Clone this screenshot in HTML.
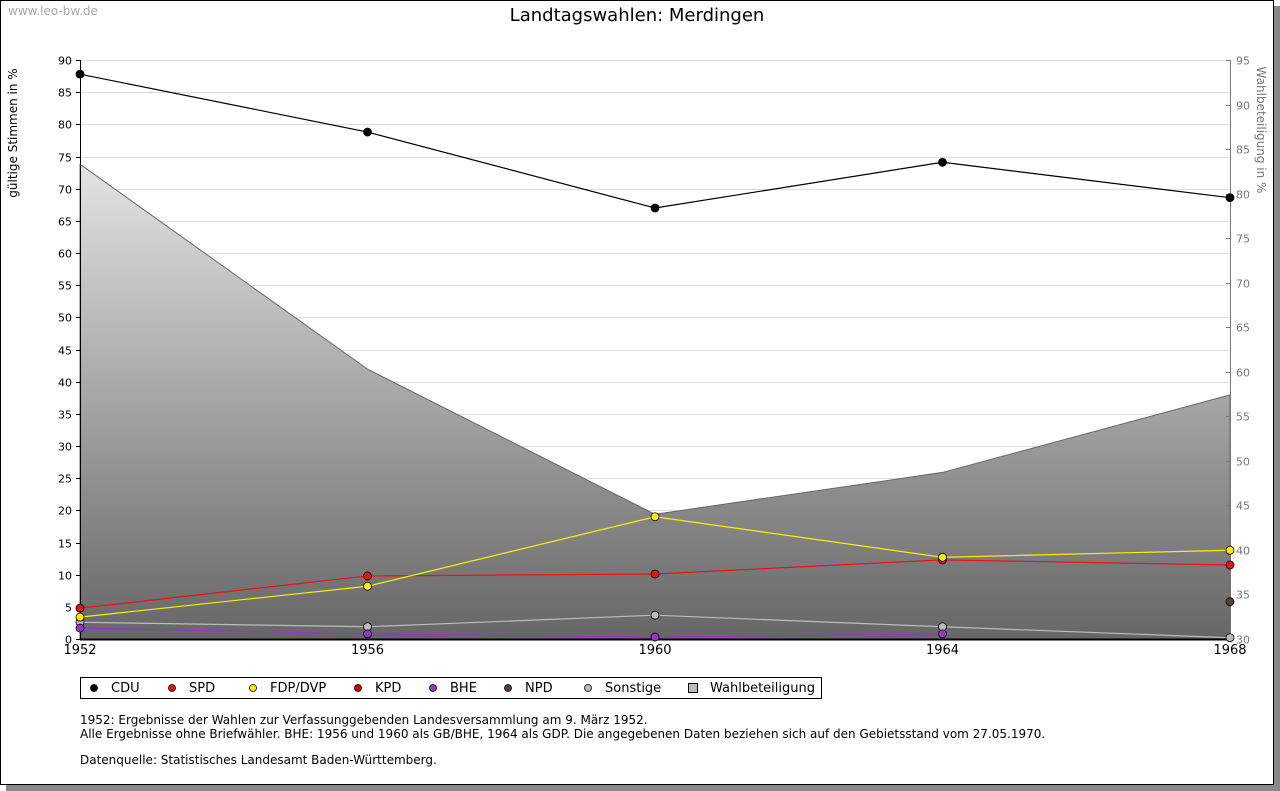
<!DOCTYPE html>
<html><head><meta charset="utf-8"><style>
body{margin:0;background:#fff;font-family:"DejaVu Sans","Liberation Sans",sans-serif;}
#wrap{position:relative;width:1280px;height:791px;overflow:hidden;background:#fff}
svg text{font-family:"DejaVu Sans","Liberation Sans",sans-serif;}
</style></head><body>
<div id="wrap">
<svg id="chart" width="1280" height="791" xmlns="http://www.w3.org/2000/svg">
<defs>
<linearGradient id="wg" x1="0" y1="60" x2="0" y2="639" gradientUnits="userSpaceOnUse">
<stop offset="0" stop-color="#ffffff"/><stop offset="1" stop-color="#666666"/></linearGradient>
</defs>
<rect x="6" y="6" width="1274" height="785" fill="#888"/>
<rect x="0.5" y="0.5" width="1273" height="784" fill="#fff" stroke="#000"/>
<text x="8" y="15" font-size="12" fill="#aaa">www.leo-bw.de</text>
<text x="637" y="21" font-size="18" text-anchor="middle" fill="#000">Landtagswahlen: Merdingen</text>
<g id="grid"></g><g id="area"></g><g id="axes"></g><g id="series"></g>
<text transform="translate(17,133) rotate(-90)" font-size="12" text-anchor="middle">gültige Stimmen in %</text>
<text transform="translate(1257,130) rotate(90)" font-size="12" text-anchor="middle" fill="#777">Wahlbeteiligung in %</text>
<rect x="80.5" y="677.5" width="741" height="21" fill="#fff" stroke="#000"/>
<g id="legend"></g>
<g font-size="12" fill="#000">
<text x="80" y="724">1952: Ergebnisse der Wahlen zur Verfassunggebenden Landesversammlung am 9. März 1952.</text>
<text x="80" y="738">Alle Ergebnisse ohne Briefwähler. BHE: 1956 und 1960 als GB/BHE, 1964 als GDP. Die angegebenen Daten beziehen sich auf den Gebietsstand vom 27.05.1970.</text>
<text x="80" y="764">Datenquelle: Statistisches Landesamt Baden-Württemberg.</text>
</g>
</svg>
</div>
<script>
const years=[1952,1956,1960,1964,1968];
const cdu=[87.8,78.8,67.0,74.1,68.6];
const spd=[4.8,9.8,10.1,12.3,11.5];
const fdp=[3.4,8.2,19.0,12.7,13.8];
const kpd=[null,null,null,null,null];
const bhe=[1.7,0.8,0.3,0.8,null];
const npd=[null,null,null,null,5.8];
const sonst=[2.6,1.9,3.7,1.9,0.2];
const turnout=[83.3,60.3,44.0,48.7,57.4];
const leftTicks=[0,5,10,15,20,25,30,35,40,45,50,55,60,65,70,75,80,85,90];
const rightTicks=[30,35,40,45,50,55,60,65,70,75,80,85,90,95];
const NS='http://www.w3.org/2000/svg';
const X0=80,X1=1230,Y0=639,Y1=60;
const xs=y=>X0+(y-1952)/(1968-1952)*(X1-X0);
const yl=v=>Y0-v/90*(Y0-Y1);
const yr=v=>Y0-(v-30)/65*(Y0-Y1);
function mk(t,a,p){const e=document.createElementNS(NS,t);for(const k in a)e.setAttribute(k,a[k]);p.appendChild(e);return e;}
const grid=document.getElementById('grid'),axes=document.getElementById('axes'),area=document.getElementById('area'),ser=document.getElementById('series'),leg=document.getElementById('legend');
leftTicks.forEach(v=>{const y=Math.round(yl(v))+0.5;
 const g=mk('line',{x1:X0,x2:X1,y1:y,y2:y,stroke:'#ddd'},grid);
 
 
 const t=mk('text',{x:X0-8,y:y+4,'font-size':11,'text-anchor':'end'},axes);t.textContent=v;
 
 
 mk('line',{x1:X0-4,x2:X0,y1:y,y2:y,stroke:'#000'},axes);
});
rightTicks.forEach(v=>{const y=Math.round(yr(v))+0.5;
 const t=mk('text',{x:X1+6,y:y+4,'font-size':11,fill:'#777'},axes);t.textContent=v;
 
 
 mk('line',{x1:X1-4,x2:X1,y1:y,y2:y,stroke:'#777'},axes);
});
years.forEach(yr_=>{const x=xs(yr_);
 const t=mk('text',{x:x,y:Y0+15,'font-size':13,'text-anchor':'middle'},axes);t.textContent=yr_;
 
 
});
mk('line',{x1:X0+0.5,x2:X0+0.5,y1:Y1,y2:Y0,stroke:'#000'},axes);
mk('line',{x1:X1+0.5,x2:X1+0.5,y1:Y1,y2:Y0,stroke:'#777'},axes);
mk('line',{x1:X0,x2:X1,y1:Y0+0.5,y2:Y0+0.5,stroke:'#000','stroke-width':2},axes);
let d='M'+xs(years[0])+','+Y0;
years.forEach((y,i)=>{d+=' L'+xs(y)+','+yr(turnout[i]);});
d+=' L'+xs(years[years.length-1])+','+Y0+' Z';
const ar=mk('path',{d:d,fill:'url(#wg)',stroke:'#666'},area);


function series(vals,color,name){
 const g=mk('g',{},ser);
 
 
 let pts=[];
 vals.forEach((v,i)=>{if(v!==null)pts.push([xs(years[i]),yl(v)]);});
 if(pts.length>1)mk('polyline',{points:pts.map(p=>p.join(',')).join(' '),fill:'none',stroke:color,'stroke-width':1.2},g);
 pts.forEach(p=>{const c=mk('circle',{cx:p[0],cy:p[1],r:4,fill:color,stroke:'#000','stroke-width':0.8},g);
  
  });
}
series(sonst,'#bbbbbb','sonstige');
series(bhe,'#9933cc','bhe');
series(npd,'#5a4030','npd');
series(kpd,'#cc0000','kpd');
series(spd,'#ee1111','spd');
series(fdp,'#ffee00','fdp');
series(cdu,'#000000','cdu');
const legItems=[['CDU','#000',94],['SPD','#ee1111',172],['FDP/DVP','#ffee00',253],['KPD','#cc0000',358],['BHE','#9933cc',433],['NPD','#5a4030',508],['Sonstige','#bbb',588]];
legItems.forEach(it=>{
 const c=mk('circle',{cx:it[2],cy:688,r:3.5,fill:it[1],stroke:'#000','stroke-width':0.8},leg);
 
 
 const t=mk('text',{x:it[2]+17,y:692,'font-size':13},leg);t.textContent=it[0];
 
 
});
const r=mk('rect',{x:688.5,y:683.5,width:9,height:9,fill:'#bbb',stroke:'#000'},leg);


const t2=mk('text',{x:710,y:692,'font-size':13},leg);t2.textContent='Wahlbeteiligung';


</script>
</body></html>
